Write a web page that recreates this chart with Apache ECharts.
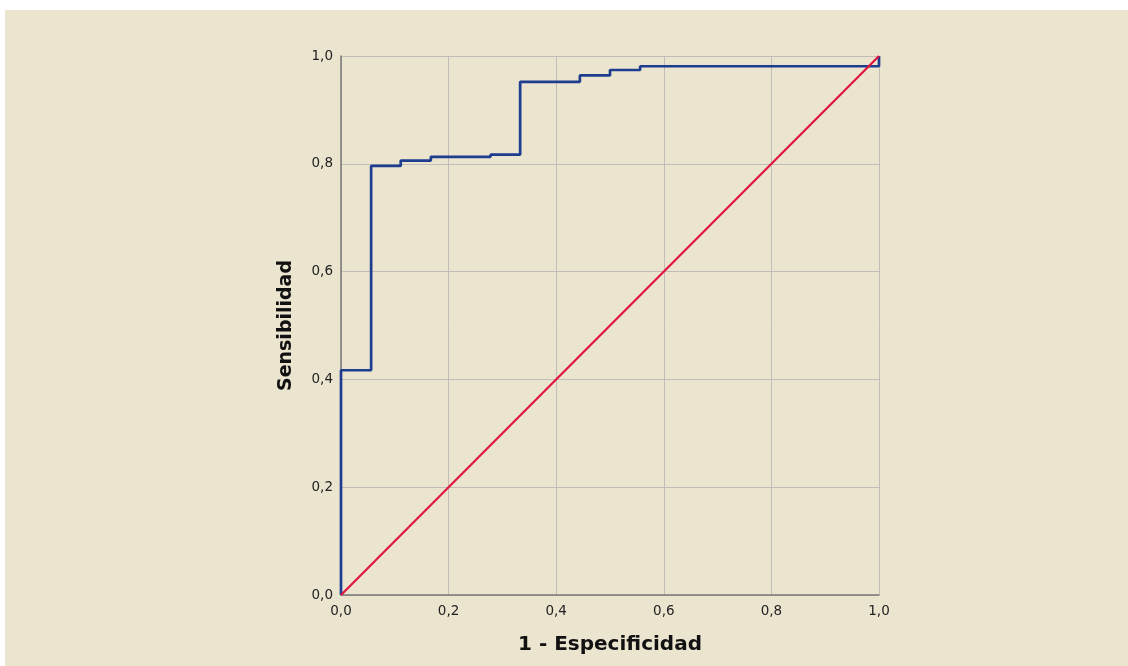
<!DOCTYPE html>
<html>
<head>
<meta charset="utf-8">
<script src="https://cdn.jsdelivr.net/npm/echarts@6/dist/echarts.min.js"></script>
<style>
html,body{margin:0;padding:0;background:#ffffff;width:1128px;height:666px;overflow:hidden;}
#c{position:absolute;left:5px;top:10px;width:1123px;height:656px;background:#ebe5d0;}
</style>
</head>
<body>
<div id="c"></div>
<script>
// ROC curve points (1 - specificity, sensitivity)
const fpr = [0, 0, 0.056, 0.111, 0.167, 0.278, 0.333, 0.444, 0.5, 0.556, 1, 1];
const tpr = [0, 0.417, 0.796, 0.806, 0.813, 0.817, 0.952, 0.964, 0.974, 0.981, 0.981, 1.0];
// Reference diagonal
const diagX = [0, 1];
const diagY = [0, 1];
const tickValues = [0, 0.2, 0.4, 0.6, 0.8, 1.0];
const xTitle = '1 - Especificidad';
const yTitle = 'Sensibilidad';

const chart = echarts.init(document.getElementById('c'), null, {renderer: 'canvas'});
const fmt = v => v.toFixed(1).replace('.', ',');
const labelStyle = {color: '#222', fontSize: 13.5, fontFamily: 'DejaVu Sans'};
chart.setOption({
  backgroundColor: 'transparent',
  animation: false,
  grid: {left: 336, top: 46, width: 538, height: 539, containLabel: false},
  xAxis: {
    type: 'value', min: 0, max: 1, interval: 0.2,
    name: xTitle, nameLocation: 'middle', nameGap: 40,
    nameTextStyle: {color: '#111', fontSize: 20, fontWeight: 'bold', fontFamily: 'DejaVu Sans'},
    axisLine: {show: true, lineStyle: {color: '#777', width: 1.5}},
    axisTick: {show: false},
    axisLabel: Object.assign({formatter: fmt, margin: 9}, labelStyle),
    splitLine: {show: true, lineStyle: {color: '#c0beb7', width: 1}}
  },
  yAxis: {
    type: 'value', min: 0, max: 1, interval: 0.2,
    name: yTitle, nameLocation: 'middle', nameGap: 45,
    nameTextStyle: {color: '#111', fontSize: 19, fontWeight: 'bold', fontFamily: 'DejaVu Sans'},
    axisLine: {show: true, lineStyle: {color: '#777', width: 1.5}},
    axisTick: {show: false},
    axisLabel: Object.assign({formatter: fmt, margin: 8}, labelStyle),
    splitLine: {show: true, lineStyle: {color: '#c0beb7', width: 1}}
  },
  series: [
    {
      type: 'line', step: 'end', clip: false, symbol: 'none',
      data: fpr.map((x, i) => [x, tpr[i]]),
      lineStyle: {color: '#1f3d8f', width: 2.7}
    },
    {
      type: 'line', clip: false, symbol: 'none',
      data: diagX.map((x, i) => [x, diagY[i]]),
      lineStyle: {color: '#e0143c', width: 2.2}
    }
  ]
});
</script>
</body>
</html>
